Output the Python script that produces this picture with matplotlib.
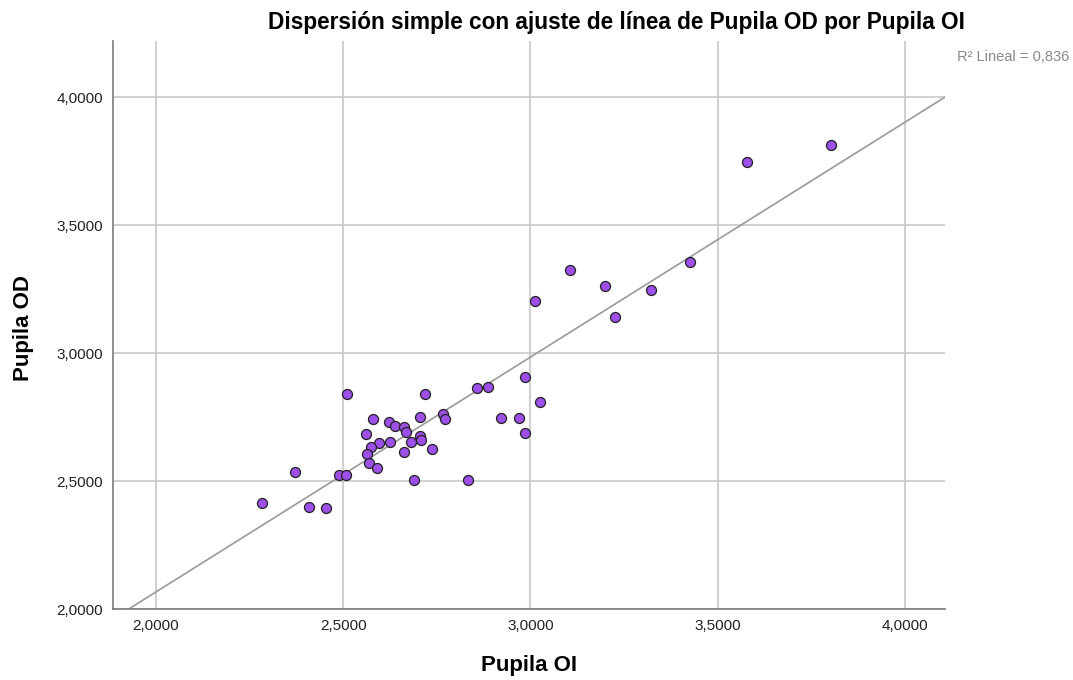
import numpy as np
import matplotlib
matplotlib.use('Agg')
import matplotlib.pyplot as plt
from matplotlib.ticker import FuncFormatter

# Datos (Pupila OI, Pupila OD)
pupila_oi = [3.802, 3.578, 3.105, 3.426, 3.200, 3.323, 3.012, 3.225, 2.986, 2.887,
             2.857, 2.511, 2.718, 3.025, 2.766, 2.772, 2.706, 2.920, 2.968, 2.579,
             2.622, 2.638, 2.661, 2.667, 2.560, 2.985, 2.706, 2.708, 2.681, 2.625,
             2.596, 2.573, 2.662, 2.737, 2.564, 2.570, 2.589, 2.370, 2.489, 2.506,
             2.690, 2.834, 2.283, 2.408, 2.454]
pupila_od = [3.812, 3.749, 3.325, 3.355, 3.261, 3.248, 3.204, 3.142, 2.905, 2.869,
             2.862, 2.840, 2.841, 2.811, 2.764, 2.742, 2.752, 2.747, 2.746, 2.743,
             2.732, 2.715, 2.713, 2.692, 2.684, 2.687, 2.676, 2.659, 2.653, 2.654,
             2.650, 2.634, 2.615, 2.624, 2.607, 2.569, 2.552, 2.536, 2.524, 2.524,
             2.504, 2.503, 2.415, 2.399, 2.395]

x_ticks = [2.0, 2.5, 3.0, 3.5, 4.0]
y_ticks = [2.0, 2.5, 3.0, 3.5, 4.0]
r2_label = 'R² Lineal = 0,836'

plt.rcParams['font.family'] = ['Liberation Sans', 'DejaVu Sans']

fig = plt.figure(figsize=(10.73, 6.8), dpi=100)
ax = fig.add_axes([0.1053, 0.1044, 0.7754, 0.8353])

x = np.array(pupila_oi)
y = np.array(pupila_od)

ax.set_xlim(1.885, 4.107)
ax.set_ylim(2.0, 4.22)

# Linea de ajuste (minimos cuadrados)
slope, intercept = np.polyfit(x, y, 1)
xl = np.array([1.885, 4.107])
ax.plot(xl, intercept + slope * xl, color='#999999', linewidth=1.2, zorder=2)

ax.scatter(x, y, s=52, color='#9D4FE8', edgecolors='#222222', linewidths=0.9, zorder=3)

ax.set_xticks(x_ticks)
ax.set_yticks(y_ticks)
fmt = FuncFormatter(lambda v, p: f'{v:.4f}'.replace('.', ','))
ax.xaxis.set_major_formatter(fmt)
ax.yaxis.set_major_formatter(fmt)
ax.tick_params(length=0, labelsize=11, colors='#222222', pad=7)

ax.grid(True, color='#c8c8c8', linewidth=1.2)
ax.set_axisbelow(True)
for s in ['top', 'right']:
    ax.spines[s].set_visible(False)
for s in ['left', 'bottom']:
    ax.spines[s].set_color('#7a7a7a')
    ax.spines[s].set_linewidth(1.2)

# Titulos de los ejes
fig.text(529 / 1073, 1 - 665 / 680, 'Pupila OI', ha='center', va='center',
         fontsize=16, fontweight='bold')
fig.text(23 / 1073, 1 - 328 / 680, 'Pupila OD', ha='center', va='center',
         rotation=90, fontsize=16, fontweight='bold')

fig.text(616 / 1073, 1 - 22 / 680, 'Dispersión simple con ajuste de línea de Pupila OD por Pupila OI',
         ha='center', va='center', fontsize=16.3, fontweight='bold')
fig.text(1069 / 1073, 1 - 57 / 680, r2_label, ha='right', va='center',
         fontsize=10.5, color='#888888')

fig.savefig('out.png', dpi=100)
